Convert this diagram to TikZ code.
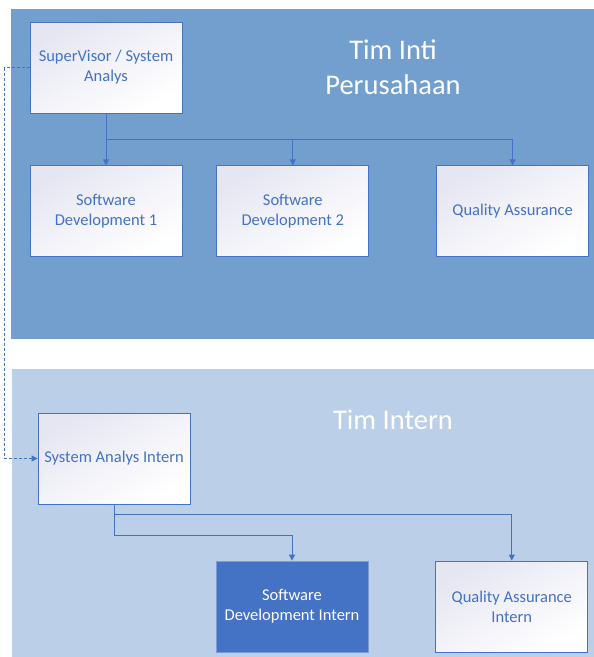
\documentclass[tikz,border=0pt]{standalone}
\usepackage{fontspec}
\setmainfont{Carlito}
\usetikzlibrary{positioning,arrows.meta}

\definecolor{coreblue}{HTML}{729FCD}
\definecolor{internblue}{HTML}{BCCFE8}
\definecolor{linkblue}{HTML}{4472C4}
\definecolor{boxtop}{HTML}{E6E6F3}

\begin{document}
\begin{tikzpicture}[
  x=1pt, y=-1pt,
  font=\fontsize{16.5}{20}\selectfont,
  basebox/.style={line width=0.8pt, align=center,
    minimum width=152pt, minimum height=91pt, inner sep=2pt},
  unit/.style={basebox, draw=linkblue, text=linkblue,
    top color=boxtop, bottom color=white, shading angle=30},
  darkunit/.style={basebox, fill=linkblue, draw=linkblue!70!white, text=white},
  panel/.style={draw=gray!25, line width=0.8pt},
  title/.style={text=white, align=center, font=\fontsize{28.5}{35}\selectfont},
  arr/.style={draw=linkblue, line width=0.9pt, -{Triangle[width=6pt,length=6pt]}}
]
\useasboundingbox (0,0) rectangle (594,657);

% panels
\fill[panel, coreblue] (11,9) rectangle (600,338);
\fill[panel, internblue] (12,369) rectangle (600,662);

\node[title] (tinti) at (393,67) {Tim Inti\\Perusahaan};
\node[title] (tintern) at (393,420) {Tim Intern};

% tim inti
\node[unit] (sv) at (106,67.5) {SuperVisor / System\\Analys};
\node[unit, below=52pt of sv] (sd1) {Software\\Development 1};
\node[unit, right=34pt of sd1] (sd2) {Software\\Development 2};
\node[unit, right=67pt of sd2] (qa) {Quality Assurance};

% tim intern
\node[unit] (sai) at (114,458.5) {System Analys Intern};
\node[darkunit] (sdi) at (292,606.5) {Software\\Development Intern};
\node[unit, right=67pt of sdi] (qai) {Quality Assurance\\Intern};

\coordinate (bus) at (106,139);
\draw[arr] (sv.south) -- (sd1.north);
\draw[arr] (bus) -| (sd2.north);
\draw[arr] (bus) -| (qa.north);

\draw[arr] (sai.south) -- ++(0,31) -| (sdi.north);
\draw[arr] (sai.south) -- ++(0,10) -| (qai.north);

\draw[arr, dash pattern=on 3pt off 2pt] (sv.west) -- ++(-25,0) |- (sai.west);
\end{tikzpicture}
\end{document}
